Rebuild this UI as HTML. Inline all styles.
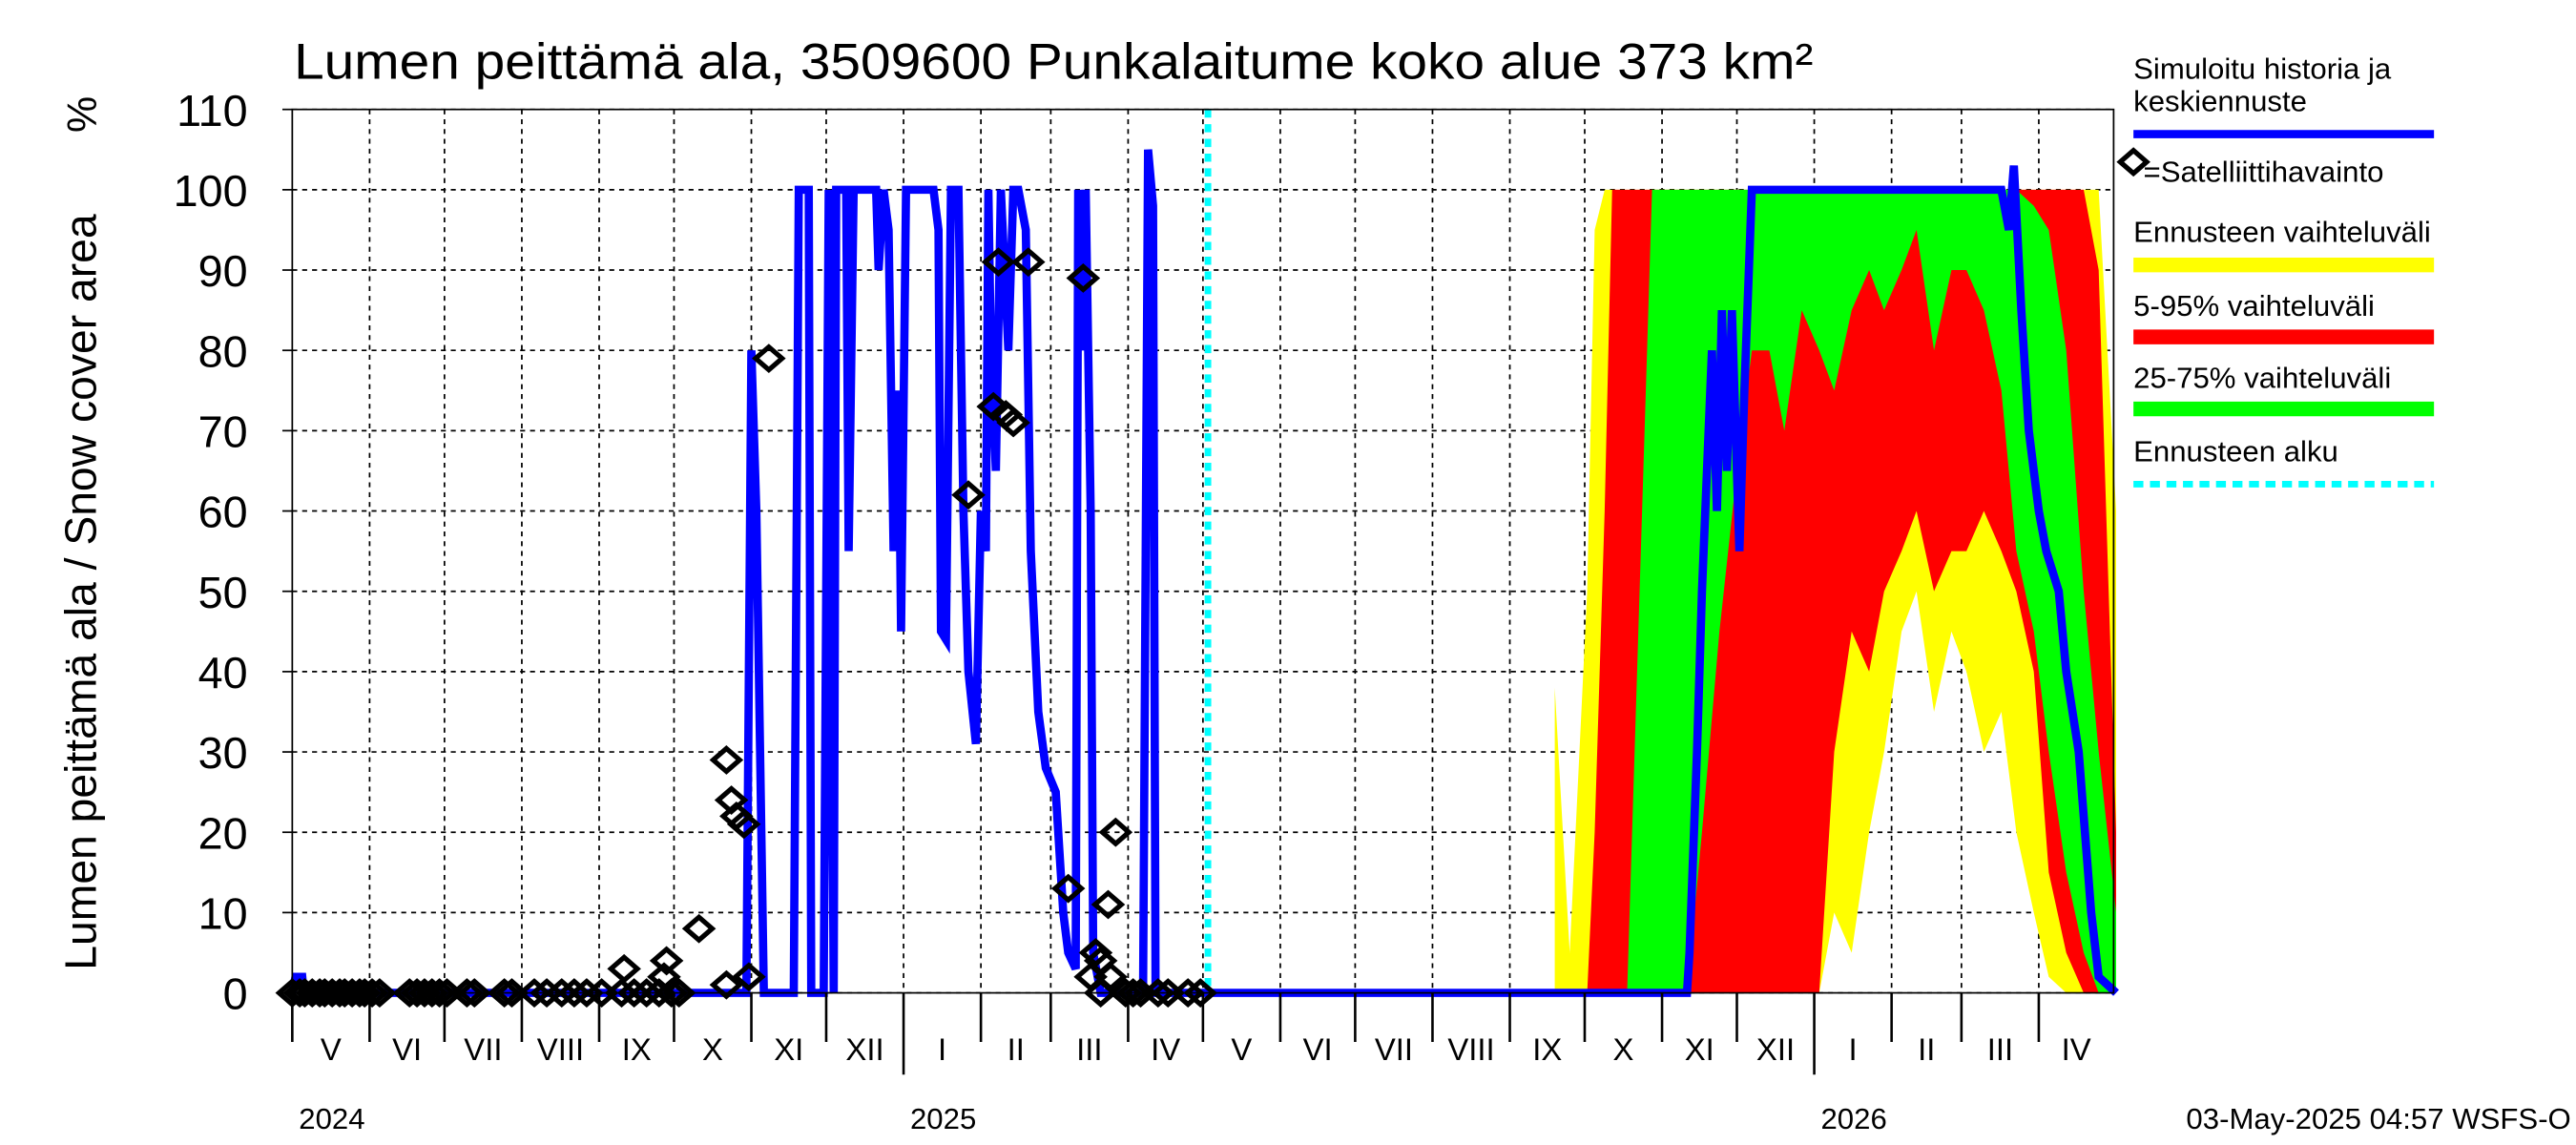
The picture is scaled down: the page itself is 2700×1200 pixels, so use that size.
<!DOCTYPE html>
<html><head><meta charset="utf-8"><style>
html,body{margin:0;padding:0;background:#fff;}
svg{display:block;}
text{font-family:"Liberation Sans",sans-serif;fill:#000;}
</style></head><body>
<svg id="chart" width="2700" height="1200" viewBox="0 0 1560 700" preserveAspectRatio="none" xmlns="http://www.w3.org/2000/svg">
<text x="178" y="48" font-size="31" textLength="920" lengthAdjust="spacingAndGlyphs">Lumen peittämä ala, 3509600 Punkalaitume koko alue 373 km²</text>
<text transform="translate(58,362) rotate(-90)" font-size="27" text-anchor="middle">Lumen peittämä ala / Snow cover area</text>
<text transform="translate(58,70) rotate(-90)" font-size="25" text-anchor="middle">%</text>
<g id="grid"></g>
<g id="bands"></g>
<g id="lines"></g>
<g id="obs"></g>
<g id="axes"></g>
<g font-size="18">
<text x="1292" y="48">Simuloitu historia ja</text>
<text x="1292" y="68">keskiennuste</text>
<line x1="1292" y1="82" x2="1474" y2="82" stroke="#0000ff" stroke-width="5"/>
<path d="M1284,99 L1292,92 L1300,99 L1292,106 Z" fill="none" stroke="#000" stroke-width="3"/>
<text x="1298" y="111">=Satelliittihavainto</text>
<text x="1292" y="148">Ennusteen vaihteluväli</text>
<line x1="1292" y1="162" x2="1474" y2="162" stroke="#ffff00" stroke-width="9"/>
<text x="1292" y="193">5-95% vaihteluväli</text>
<line x1="1292" y1="206" x2="1474" y2="206" stroke="#ff0000" stroke-width="9"/>
<text x="1292" y="237">25-75% vaihteluväli</text>
<line x1="1292" y1="250" x2="1474" y2="250" stroke="#00ff00" stroke-width="9"/>
<text x="1292" y="282">Ennusteen alku</text>
<line x1="1292" y1="296" x2="1474" y2="296" stroke="#00ffff" stroke-width="4" stroke-dasharray="6,4"/>
</g>
<text x="1557" y="690" font-size="18" text-anchor="end">03-May-2025 04:57 WSFS-O</text>
</svg>
<script>
// ---- data ----
const yTicks = [0,10,20,30,40,50,60,70,80,90,100,110];
const monthLabels = ["V","VI","VII","VIII","IX","X","XI","XII","I","II","III","IV","V","VI","VII","VIII","IX","X","XI","XII","I","II","III","IV"];
const monthLengths = [31,30,31,31,30,31,30,31,31,28,31,30,31,30,31,31,30,31,30,31,31,28,31,30];
const yearLabels = ["2024","2025","2026"];
const yearMonthIndex = [0,8,20];
const forecastStartDay = 367;
const histDays = [0,1.3,4,4.6,182,184,186,189,201,203,207,208,213,215,217,218,222,223,225,227,234,235,237,239,241,243,244,246,257,259,260,262,264,267,269,271,274,276,278,279,280,282,284,287,289,291,294,296,299,302,306,309,311,314,315,317,318,320,321,324,341,343,345,346,366];
const histVals = [0,2,2,0,0,80,60,0,0,100,100,0,0,100,0,100,100,55,100,100,100,90,100,95,55,75,45,100,100,95,45,44,100,100,60,40,31,60,55,100,80,65,100,80,100,100,95,55,35,28,25,10,5,3,100,80,100,60,5,0,0,105,98,0,0];
const fcLineDays = [366,559,560,563,565,569,571,573,575,577,580,582,585,685,688,690,693,696,700,703,708,711,716,721,724,731];
const fcLineVals = [0,0,5,30,50,80,60,85,65,85,55,75,100,100,95,103,85,70,60,55,50,40,30,10,2,0];
const bandDays = [506,512,519,522,526,529,535,545,559,565,572,579,585,592,598,605,612,618,625,632,638,645,651,658,665,671,678,685,691,698,704,711,718,724,731];
const yellowUpper = [38,5,50,95,100,100,100,100,100,100,100,100,100,100,100,100,100,100,100,100,100,100,100,100,100,100,100,100,100,100,100,100,100,100,60];
const yellowLower = [0,0,0,0,0,0,0,0,0,0,0,0,0,0,0,0,0,10,5,20,30,45,50,35,45,40,30,35,20,10,2,0,0,0,0];
const redUpper = [0,0,0,20,60,100,100,100,100,100,100,100,100,100,100,100,100,100,100,100,100,100,100,100,100,100,100,100,100,100,100,100,100,90,20];
const redLower = [0,0,0,0,0,0,0,0,0,0,0,0,0,0,0,0,0,30,45,40,50,55,60,50,55,55,60,55,50,40,15,5,0,0,0];
const greenUpper = [0,0,0,0,0,0,0,100,100,100,100,100,100,100,100,100,100,100,100,100,100,100,100,100,100,100,100,100,100,98,95,80,50,30,10];
const greenLower = [0,0,0,0,0,0,0,0,0,20,45,65,80,80,70,85,80,75,85,90,85,90,95,80,90,90,85,75,55,45,30,15,5,0,0];
const obsDays = [0,3,5,8,11,13,16,19,21,24,27,29,32,35,47,50,53,56,59,62,70,73,85,88,97,102,108,113,118,124,132,137,142,147,133,149,150,152,155,163,174,174,176,178,181,183,191,271,281,283,286,289,295,311,317,320,322,324,324,327,328,330,334,337,340,347,351,359,364];
const obsVals = [0,0,0,0,0,0,0,0,0,0,0,0,0,0,0,0,0,0,0,0,0,0,0,0,0,0,0,0,0,0,0,0,0,0,3,2,4,0,0,8,1,29,24,22,21,2,79,62,73,91,72,71,91,13,89,2,5,0,4,11,2,20,0,0,0,0,0,0,0];
// ---- axes ----
const X0=177,X1=1280,Y0=607,Y100=116;
const totalDays = monthLengths.reduce((a,b)=>a+b,0);
const xS = d => X0 + d*(X1-X0)/totalDays;
const yS = v => Y0 - v*(Y0-Y100)/100;
const NS="http://www.w3.org/2000/svg";
function mk(tag, parent, attrs){const e=document.createElementNS(NS,tag);for(const k in attrs)e.setAttribute(k,attrs[k]);parent.appendChild(e);return e;}
const grid=document.getElementById('grid'), axes=document.getElementById('axes'), bands=document.getElementById('bands'), lines=document.getElementById('lines'), obs=document.getElementById('obs');
yTicks.forEach(v=>{
  const l=mk('line',grid,{x1:X0,x2:X1,y1:yS(v),y2:yS(v),stroke:'#000','stroke-width':1,'stroke-dasharray':'3,3'});
  
  
  const t=mk('text',axes,{x:150,y:yS(v)+10,'font-size':27,'text-anchor':'end'});
  t.textContent=v;
  
  
  const tk=mk('line',axes,{x1:X0-6,x2:X0,y1:yS(v),y2:yS(v),stroke:'#000'});
  
  
});
let acc=0;
monthLabels.forEach((m,i)=>{
  const s=acc, e=acc+monthLengths[i];
  if(i>0){
    const g=mk('line',grid,{x1:xS(s),x2:xS(s),y1:yS(110),y2:Y0,stroke:'#000','stroke-width':1,'stroke-dasharray':'3,3'});
    
    
  }
  const isYear = yearMonthIndex.includes(i);
  const tk=mk('line',axes,{x1:xS(s),x2:xS(s),y1:Y0,y2:Y0+(isYear&&i>0?50:30),stroke:'#000','stroke-width':1.5});
  
  
  const t=mk('text',axes,{x:(xS(s)+xS(e))/2,y:648,'font-size':19,'text-anchor':'middle'});
  t.textContent=m;
  
  
  acc=e;
});
yearLabels.forEach((y,i)=>{
  let d=0;for(let k=0;k<yearMonthIndex[i];k++)d+=monthLengths[k];
  const t=mk('text',axes,{x:xS(d)+4,y:690,'font-size':18});
  t.textContent=y;
  
  
});
const frame=mk('rect',axes,{x:X0,y:yS(110),width:X1-X0,height:Y0-yS(110),fill:'none',stroke:'#000','stroke-width':1});


function band(up,lo,color,name){
  let p=bandDays.map((d,i)=>xS(d)+','+yS(up[i]));
  for(let i=bandDays.length-1;i>=0;i--)p.push(xS(bandDays[i])+','+yS(lo[i]));
  const e=mk('polygon',bands,{points:p.join(' '),fill:color});
  
  
}
band(yellowUpper,yellowLower,'#ffff00','band-range');
band(redUpper,redLower,'#ff0000','band-5-95');
band(greenUpper,greenLower,'#00ff00','band-25-75');
const fs=mk('line',lines,{x1:xS(forecastStartDay),x2:xS(forecastStartDay),y1:yS(110),y2:Y0,stroke:'#00ffff','stroke-width':4,'stroke-dasharray':'5,4'});


function line(ds,vs,name){
  const e=mk('polyline',lines,{points:ds.map((d,i)=>xS(d)+','+yS(vs[i])).join(' '),fill:'none',stroke:'#0000ff','stroke-width':5,'stroke-linejoin':'miter'});
  
  
}
line(histDays,histVals,'simulated-history-line');
line(fcLineDays,fcLineVals,'median-forecast-line');
obsDays.forEach((d,i)=>{
  const x=xS(d),y=yS(obsVals[i]);
  const e=mk('path',obs,{d:`M${x-8},${y} L${x},${y-7} L${x+8},${y} L${x},${y+7} Z`,fill:'none',stroke:'#000','stroke-width':3});
  
  
});
</script>
</body></html>
